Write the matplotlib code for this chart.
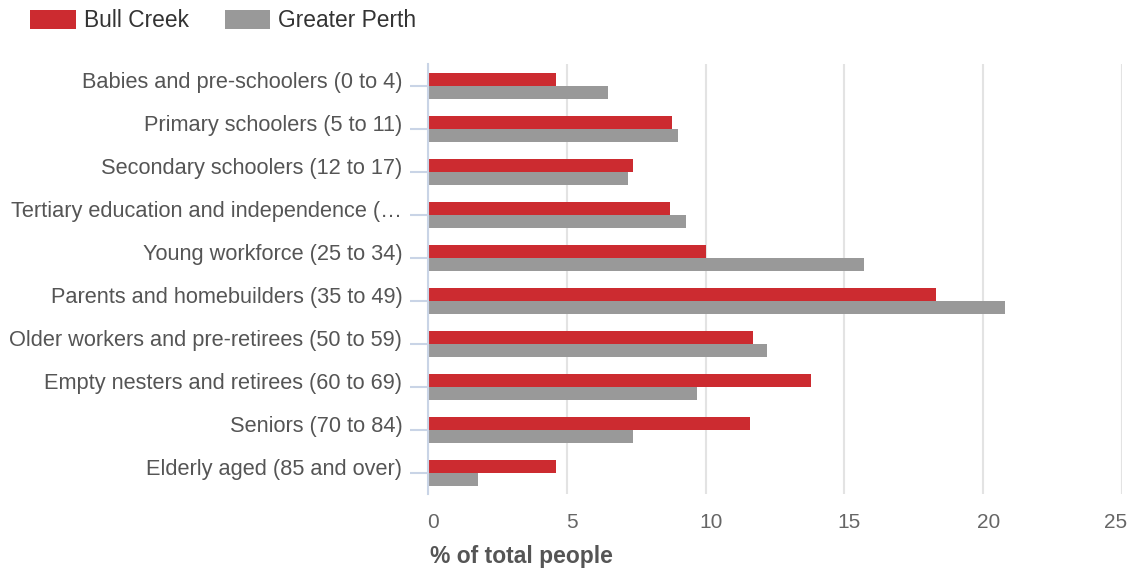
import numpy as np
import matplotlib
matplotlib.use("Agg")
import matplotlib.pyplot as plt
import matplotlib.transforms as mtransforms

plt.rcParams['font.family'] = ['Liberation Sans', 'DejaVu Sans']

categories = [
    "Babies and pre-schoolers (0 to 4)",
    "Primary schoolers (5 to 11)",
    "Secondary schoolers (12 to 17)",
    "Tertiary education and independence (\u2026",
    "Young workforce (25 to 34)",
    "Parents and homebuilders (35 to 49)",
    "Older workers and pre-retirees (50 to 59)",
    "Empty nesters and retirees (60 to 69)",
    "Seniors (70 to 84)",
    "Elderly aged (85 and over)",
]
bull_creek = [4.6, 8.8, 7.4, 8.7, 10.0, 18.3, 11.7, 13.8, 11.6, 4.6]
greater_perth = [6.5, 9.0, 7.2, 9.3, 15.7, 20.8, 12.2, 9.7, 7.4, 1.8]
x_ticks = [0, 5, 10, 15, 20, 25]
series_names = ["Bull Creek", "Greater Perth"]

RED = "#cc2b30"
GREY = "#999999"
AXIS_BLUE = "#c9d4e6"
TEXT = "#555555"
DPI = 100

fig = plt.figure(figsize=(11.27, 5.70), dpi=DPI)
ax = fig.add_axes([0.3798, 0.1325, 0.6158, 0.7544])

y = np.arange(len(categories))
h = 0.3
ax.barh(y - h / 2, bull_creek, height=h, color=RED, label=series_names[0], zorder=3)
ax.barh(y + h / 2, greater_perth, height=h, color=GREY, label=series_names[1], zorder=3)

ax.set_xlim(0, 25)
ax.set_ylim(len(categories) - 0.5, -0.5)

ax.set_yticks(y)
ax.set_yticklabels(categories, fontsize=15.7, color=TEXT)
ax.tick_params(axis='y', length=13, width=1.5, color=AXIS_BLUE, pad=5.5)
# category names sit level with the red bar, a little above the tick
lift = mtransforms.ScaledTranslation(0, 6 / DPI, fig.dpi_scale_trans)
for lbl in ax.get_yticklabels():
    lbl.set_transform(lbl.get_transform() + lift)

# x tick numbers placed by hand so the last one stays inside the canvas
ax.set_xticks(x_ticks)
ax.tick_params(axis='x', length=0, labelbottom=False)
xform = mtransforms.blended_transform_factory(ax.transData, ax.transAxes)
for t in x_ticks:
    last = t == x_ticks[-1]
    off = mtransforms.ScaledTranslation(5 / DPI, -28 / DPI, fig.dpi_scale_trans)
    ax.text(t, 0, str(t), transform=xform + off, fontsize=15, color="#666666",
            ha='right' if last else 'center', va='center', clip_on=False)

ax.grid(axis='x', color="#e3e3e3", linewidth=1.5, zorder=0)
for side in ['top', 'right', 'bottom']:
    ax.spines[side].set_visible(False)
ax.spines['left'].set_color(AXIS_BLUE)
ax.spines['left'].set_linewidth(1.5)
ax.spines['left'].set_zorder(4)

fig.text(430 / 1127, 1 - 557 / 570, "% of total people", fontsize=16.5, fontweight='bold',
         color=TEXT, ha='left', va='center')

fig.legend(loc='upper left', bbox_to_anchor=(30 / 1127, 1 - 9 / 570), ncol=2, frameon=False,
           fontsize=16.4, handlelength=2.0, handleheight=0.92, handletextpad=0.35,
           columnspacing=1.58, borderpad=0, borderaxespad=0, labelcolor="#333333")

fig.savefig("out.png", dpi=DPI)
